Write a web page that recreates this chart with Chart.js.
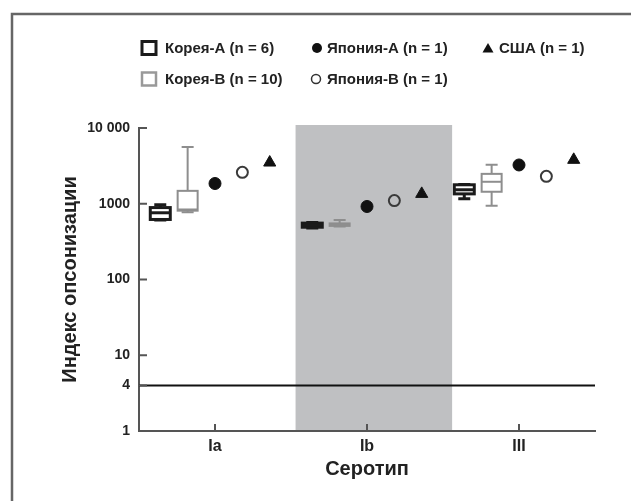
<!DOCTYPE html>
<html>
<head>
<meta charset="utf-8">
<script src="https://cdn.jsdelivr.net/npm/chart.js@4.4.1/dist/chart.umd.min.js"></script>
<style>
  html, body { margin: 0; padding: 0; background: #fff; }
</style>
</head>
<body>
<canvas id="opsChart" width="631" height="501"></canvas>
<script>
const serotypes = ["Ia", "Ib", "III"];
const yTicks = [1, 4, 10, 100, 1000, 10000];
// box plots, one row per serotype: [min, q1, median, q3, max]
const koreaABox = [
	[610, 620, 760, 890, 970],
	[480, 490, 520, 555, 565],
	[1160, 1350, 1530, 1780, 1800],
];
const koreaBBox = [
	[770, 810, 840, 1480, 5600],
	[500, 510, 530, 550, 610],
	[940, 1440, 1950, 2480, 3260],
];
const japanA = [1850, 920, 3250];
const japanB = [2600, 1100, 2300];
const usa = [3500, 1350, 3800];
const threshold = 4;

const font = "'Liberation Sans', Arial, sans-serif";
Chart.defaults.font.family = font;
Chart.defaults.color = "#222";

// grey band behind serotype Ib
const bandPlugin = {
	id: "band",
	beforeDraw(chart) {
		const { ctx, chartArea, scales } = chart;
		const x0 = scales.x.getPixelForValue(1.53);
		const x1 = scales.x.getPixelForValue(2.56);
		ctx.save();
		ctx.fillStyle = "#bfc0c2";
		ctx.fillRect(x0, chartArea.top - 3, x1 - x0, chartArea.bottom - chartArea.top + 3);
		ctx.restore();
	},
};

const boxPlugin = {
	id: "boxes",
	afterDatasetsDraw(chart) {
		const { ctx, scales } = chart;
		const groups = [
			{ rows: koreaABox, shift: -0.36, color: "#1b1b1b", lw: 3 },
			{ rows: koreaBBox, shift: -0.18, color: "#8e8e8e", lw: 2 },
		];
		groups.forEach((g) => {
			g.rows.forEach((row, i) => {
				const cx = scales.x.getPixelForValue(i + 1 + g.shift);
				const [mn, q1, md, q3, mx] = row.map((v) => scales.y.getPixelForValue(v));
				const half = 10;
				const cap = 6;
				ctx.save();
				ctx.strokeStyle = g.color;
				ctx.lineWidth = g.lw;
				ctx.beginPath();
				ctx.moveTo(cx, q3);
				ctx.lineTo(cx, mx);
				ctx.moveTo(cx - cap, mx);
				ctx.lineTo(cx + cap, mx);
				ctx.moveTo(cx, q1);
				ctx.lineTo(cx, mn);
				ctx.moveTo(cx - cap, mn);
				ctx.lineTo(cx + cap, mn);
				ctx.stroke();
				ctx.strokeRect(cx - half, q3, half * 2, q1 - q3);
				ctx.beginPath();
				ctx.moveTo(cx - half, md);
				ctx.lineTo(cx + half, md);
				ctx.stroke();
				ctx.restore();
			});
		});
	},
};

// inward tick marks, legend and the figure frame
const decorPlugin = {
	id: "decor",
	afterDraw(chart) {
		const { ctx, chartArea, scales } = chart;
		ctx.save();
		ctx.strokeStyle = "#555";
		ctx.lineWidth = 2;
		ctx.beginPath();
		scales.y.ticks.forEach((t) => {
			const py = scales.y.getPixelForValue(t.value);
			ctx.moveTo(chartArea.left, py);
			ctx.lineTo(chartArea.left + 8, py);
		});
		scales.x.ticks.forEach((t) => {
			const px = scales.x.getPixelForValue(t.value);
			ctx.moveTo(px, chartArea.bottom);
			ctx.lineTo(px, chartArea.bottom - 7);
		});
		ctx.stroke();

		// frame
		ctx.strokeStyle = "#666";
		ctx.lineWidth = 2.5;
		ctx.beginPath();
		ctx.moveTo(12, 501);
		ctx.lineTo(12, 14);
		ctx.lineTo(631, 14);
		ctx.stroke();

		// legend
		const items = [
			{ text: "Корея-А (n = 6)", mark: "boxA", mx: 149, tx: 165, y: 48 },
			{ text: "Япония-А (n = 1)", mark: "dot", mx: 317, tx: 327, y: 48 },
			{ text: "США (n = 1)", mark: "tri", mx: 488, tx: 499, y: 48 },
			{ text: "Корея-В (n = 10)", mark: "boxB", mx: 149, tx: 165, y: 79 },
			{ text: "Япония-В (n = 1)", mark: "ring", mx: 316, tx: 327, y: 79 },
		];
		ctx.font = "bold 15px " + font;
		ctx.textBaseline = "middle";
		ctx.fillStyle = "#222";
		items.forEach((it) => {
			ctx.save();
			if (it.mark === "boxA") {
				ctx.strokeStyle = "#1b1b1b";
				ctx.lineWidth = 3;
				ctx.strokeRect(it.mx - 7, it.y - 6.5, 14, 13);
			} else if (it.mark === "boxB") {
				ctx.strokeStyle = "#999";
				ctx.lineWidth = 2.5;
				ctx.strokeRect(it.mx - 7, it.y - 6.5, 14, 13);
			} else if (it.mark === "dot") {
				ctx.fillStyle = "#111";
				ctx.beginPath();
				ctx.arc(it.mx, it.y, 5, 0, Math.PI * 2);
				ctx.fill();
			} else if (it.mark === "ring") {
				ctx.strokeStyle = "#333";
				ctx.lineWidth = 1.5;
				ctx.beginPath();
				ctx.arc(it.mx, it.y, 4.5, 0, Math.PI * 2);
				ctx.stroke();
			} else {
				ctx.fillStyle = "#111";
				ctx.beginPath();
				ctx.moveTo(it.mx, it.y - 5);
				ctx.lineTo(it.mx + 5.5, it.y + 4.5);
				ctx.lineTo(it.mx - 5.5, it.y + 4.5);
				ctx.closePath();
				ctx.fill();
			}
			ctx.restore();
			ctx.fillText(it.text, it.tx, it.y + 1);
		});
		ctx.restore();
	},
};

const toPoints = (values, shift) => values.map((v, i) => ({ x: i + 1 + shift, y: v }));

const opsChart = new Chart(document.getElementById("opsChart").getContext("2d"), {
	type: "scatter",
	data: {
		datasets: [
			{
				label: "Япония-А (n = 1)",
				data: toPoints(japanA, 0),
				pointStyle: "circle",
				pointRadius: 6,
				backgroundColor: "#111",
				borderColor: "#111",
				borderWidth: 1,
			},
			{
				label: "Япония-В (n = 1)",
				data: toPoints(japanB, 0.18),
				pointStyle: "circle",
				pointRadius: 5.5,
				backgroundColor: "rgba(0,0,0,0)",
				borderColor: "#3a3a3a",
				borderWidth: 2,
			},
			{
				label: "США (n = 1)",
				data: toPoints(usa, 0.36),
				pointStyle: "triangle",
				pointRadius: 7,
				backgroundColor: "#111",
				borderColor: "#111",
				borderWidth: 1,
			},
			{
				type: "line",
				label: "threshold",
				data: [
					{ x: 0.5, y: threshold },
					{ x: 3.5, y: threshold },
				],
				borderColor: "#111",
				borderWidth: 2,
				pointRadius: 0,
			},
		],
	},
	options: {
		responsive: false,
		animation: false,
		layout: { padding: { top: 128, right: 36, left: 0, bottom: 0 } },
		plugins: {
			legend: { display: false },
			tooltip: { enabled: false },
		},
		scales: {
			x: {
				type: "linear",
				min: 0.5,
				max: 3.5,
				afterBuildTicks: (scale) => {
					scale.ticks = serotypes.map((s, i) => ({ value: i + 1 }));
				},
				afterFit: (scale) => {
					scale.height = 70;
				},
				ticks: {
					callback: (v, i) => serotypes[i],
					font: { size: 16, weight: "bold" },
					color: "#222",
					padding: 6,
					maxRotation: 0,
				},
				grid: { display: false, drawTicks: false },
				border: { color: "#555", width: 2 },
				title: {
					display: true,
					text: "Серотип",
					font: { size: 20, weight: "bold" },
					color: "#222",
					padding: { top: 0, bottom: 20 },
				},
			},
			y: {
				type: "logarithmic",
				min: 1,
				max: 10000,
				afterBuildTicks: (scale) => {
					scale.ticks = yTicks.map((v) => ({ value: v }));
				},
				afterFit: (scale) => {
					scale.width = 139;
				},
				ticks: {
					callback: (v) => (v === 10000 ? "10 000" : String(v)),
					font: { size: 14, weight: "bold" },
					color: "#222",
					padding: 9,
				},
				grid: { display: false, drawTicks: false },
				border: { color: "#555", width: 2 },
				title: {
					display: true,
					text: "Индекс опсонизации",
					font: { size: 20, weight: "bold" },
					color: "#222",
					padding: { top: 58, bottom: 0 },
				},
			},
		},
	},
	plugins: [bandPlugin, boxPlugin, decorPlugin],
});
</script>
</body>
</html>
